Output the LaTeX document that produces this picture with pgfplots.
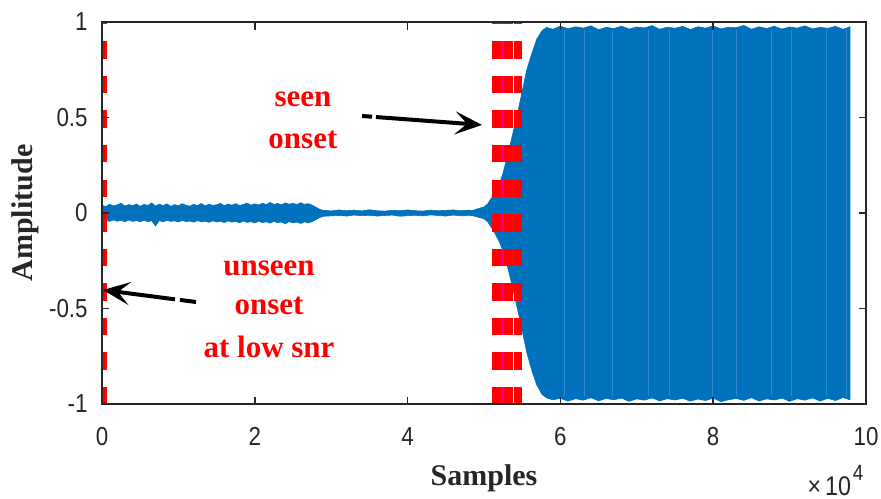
\documentclass[border=0pt]{standalone}
\usepackage{pgfplots}
\pgfplotsset{compat=1.18}
\usepackage{fontspec}
\setmainfont{Liberation Sans}
\newfontfamily\tickfont[FakeStretch=0.86]{Liberation Sans}
\newfontfamily\timesfont{Liberation Serif}
\usetikzlibrary{arrows.meta}
\definecolor{mblue}{RGB}{0,114,189}
\definecolor{lblue}{RGB}{45,138,206}
\definecolor{axgray}{RGB}{38,38,38}
\begin{document}
\begin{tikzpicture}
\begin{axis}[
 scale only axis, width=382pt, height=191pt,
 xmin=0, xmax=100000, ymin=-1, ymax=1,
 xtick={0,20000,40000,60000,80000,100000},
 xticklabels={0,2,4,6,8,10},
 ytick={-1,-0.5,0,0.5,1},
 yticklabels={-1,-0.5,0,0.5,1},
 scaled x ticks=false, scaled y ticks=false,
 tick align=inside,
 major tick length=3.75pt,
 axis line style={axgray, line width=0.75pt},
 every tick/.style={axgray, line width=0.75pt},
 tick label style={font=\tickfont\fontsize{13}{15}\selectfont, text=axgray, inner sep=0pt},
 xticklabel style={anchor=north, yshift=-11.5pt},
 yticklabel style={anchor=east, xshift=-7pt},
 clip=false,
 axis on top,
]
% signal envelope (upper then lower)
\addplot[fill=mblue, draw=mblue, line width=0.3pt] coordinates {
(0,0.040)(500,0.034)(1000,0.046)(1500,0.037)(2000,0.043)(2500,0.051)(3000,0.036)(3500,0.044)(4000,0.039)(4500,0.047)(5000,0.035)(5500,0.045)(6000,0.040)(6500,0.053)(7000,0.037)(7500,0.046)(8000,0.039)(8500,0.048)(9000,0.035)(9500,0.044)(10000,0.038)(10500,0.049)(11000,0.040)(11500,0.036)(12000,0.045)(12500,0.039)(13000,0.050)(13500,0.037)(14000,0.046)(14500,0.040)(15000,0.043)(15500,0.051)(16000,0.038)(16500,0.047)(17000,0.041)(17500,0.049)(18000,0.039)(18500,0.045)(19000,0.052)(19500,0.041)(20000,0.048)(20500,0.042)(21000,0.051)(21500,0.044)(22000,0.055)(22500,0.045)(23000,0.050)(23500,0.043)(24000,0.053)(24500,0.046)(25000,0.051)(25500,0.044)(26000,0.054)(26500,0.045)(27000,0.049)(27500,0.041)(28000,0.030)(28500,0.019)(29000,0.014)(30000,0.011)(31000,0.016)(32000,0.012)(33000,0.015)(34000,0.011)(35000,0.017)(36000,0.012)(37000,0.010)(38000,0.014)(39000,0.012)(40000,0.016)(41000,0.012)(42000,0.010)(43000,0.015)(44000,0.012)(45000,0.014)(46000,0.016)(47000,0.012)(48000,0.015)(48500,0.013)(49000,0.020)(49500,0.026)(50000,0.032)(50500,0.048)(50800,0.068)(51200,0.09)(52000,0.15)(52500,0.21)(53200,0.32)(53800,0.42)(54700,0.58)(55600,0.75)(56300,0.84)(56900,0.91)(57600,0.955)(58200,0.972)(59000,0.962)(60000,0.978)(61000,0.965)(62000,0.975)(63000,0.968)(64000,0.980)(65000,0.960)(66000,0.972)(67000,0.966)(68000,0.978)(69000,0.963)(70000,0.974)(71000,0.969)(72000,0.981)(73000,0.962)(74000,0.973)(75000,0.967)(76000,0.977)(77000,0.961)(78000,0.975)(79000,0.968)(80000,0.979)(81000,0.964)(82000,0.973)(83000,0.970)(84000,0.982)(85000,0.962)(86000,0.975)(87000,0.966)(88000,0.978)(89000,0.963)(90000,0.974)(91000,0.968)(92000,0.980)(93000,0.964)(94000,0.972)(95000,0.967)(96000,0.977)(97000,0.962)(97900,0.975)
(97900,-0.978)(97000,-0.966)(96000,-0.982)(95000,-0.970)(94000,-0.985)(93000,-0.968)(92000,-0.980)(91000,-0.972)(90000,-0.986)(89000,-0.969)(88000,-0.979)(87000,-0.973)(86000,-0.984)(85000,-0.967)(84000,-0.981)(83000,-0.971)(82000,-0.978)(81000,-0.988)(80000,-0.969)(79000,-0.982)(78000,-0.974)(77000,-0.985)(76000,-0.970)(75000,-0.979)(74000,-0.972)(73000,-0.984)(72000,-0.968)(71000,-0.980)(70000,-0.973)(69000,-0.986)(68000,-0.969)(67000,-0.978)(66000,-0.971)(65000,-0.983)(64000,-0.967)(63000,-0.980)(62000,-0.972)(61000,-0.985)(60000,-0.970)(59000,-0.978)(58200,-0.968)(57600,-0.95)(56900,-0.90)(56300,-0.83)(55600,-0.73)(54700,-0.56)(53800,-0.40)(53200,-0.30)(52500,-0.20)(52000,-0.15)(51200,-0.09)(50800,-0.066)(50500,-0.047)(50000,-0.030)(49500,-0.025)(49000,-0.019)(48500,-0.014)(48000,-0.012)(47000,-0.015)(46000,-0.011)(45000,-0.016)(44000,-0.013)(43000,-0.010)(42000,-0.015)(41000,-0.012)(40000,-0.014)(39000,-0.017)(38000,-0.011)(37000,-0.013)(36000,-0.016)(35000,-0.012)(34000,-0.014)(33000,-0.011)(32000,-0.016)(31000,-0.013)(30000,-0.015)(29000,-0.017)(28500,-0.024)(28000,-0.035)(27500,-0.045)(27000,-0.052)(26500,-0.046)(26000,-0.055)(25500,-0.047)(25000,-0.052)(24500,-0.045)(24000,-0.056)(23500,-0.047)(23000,-0.051)(22500,-0.044)(22000,-0.053)(21500,-0.046)(21000,-0.050)(20500,-0.043)(20000,-0.052)(19500,-0.045)(19000,-0.049)(18500,-0.042)(18000,-0.051)(17500,-0.044)(17000,-0.048)(16500,-0.041)(16000,-0.050)(15500,-0.043)(15000,-0.047)(14500,-0.041)(14000,-0.049)(13500,-0.043)(13000,-0.046)(12500,-0.040)(12000,-0.048)(11500,-0.042)(11000,-0.045)(10500,-0.039)(10000,-0.047)(9500,-0.041)(9000,-0.044)(8500,-0.039)(8000,-0.046)(7500,-0.040)(7000,-0.068)(6500,-0.041)(6000,-0.045)(5500,-0.038)(5000,-0.046)(4500,-0.040)(4000,-0.044)(3500,-0.037)(3000,-0.045)(2500,-0.039)(2000,-0.043)(1500,-0.036)(1000,-0.044)(500,-0.038)(0,-0.040)
};
% faint aliasing stripes
\foreach \xs in {60500,63200,66800,71500,74300,79900,83100,87600,90200,94800,97400}{
 \edef\tmp{\noexpand\addplot[lblue, line width=0.5pt] coordinates {(\xs,-0.96)(\xs,0.96)};}\tmp
}
% onset lines
\addplot[magenta, line width=2.5pt, dash pattern=on 8.75pt off 8.5pt] coordinates {(52360,-1)(52360,1)};
\addplot[red, line width=2.5pt, dash pattern=on 8.75pt off 8.5pt] coordinates {(51370,-1)(51370,1)};
\addplot[red, line width=2.5pt, dash pattern=on 8.75pt off 8.5pt] coordinates {(51960,-1)(51960,1)};
\addplot[red, line width=2.5pt, dash pattern=on 8.75pt off 8.5pt] coordinates {(52880,-1)(52880,1)};
\addplot[red, line width=2.5pt, dash pattern=on 8.75pt off 8.5pt] coordinates {(53530,-1)(53530,1)};
\addplot[red, line width=2.5pt, dash pattern=on 8.75pt off 8.5pt] coordinates {(54190,-1)(54190,1)};
\addplot[red, line width=2.5pt, dash pattern=on 8.75pt off 8.5pt] coordinates {(54650,-1)(54650,1)};
\addplot[red, line width=2.5pt, dash pattern=on 8.75pt off 8.5pt] coordinates {(330,-1)(330,1)};
% arrows
\draw[black, line width=2pt] (axis cs:34030,0.508) -- (axis cs:35340,0.504);
\draw[black, line width=2pt, -{Stealth[length=13.5pt,width=11.5pt,inset=6pt]}] (axis cs:35860,0.5025) -- (axis cs:49740,0.461);
\draw[black, line width=2pt] (axis cs:12300,-0.466) -- (axis cs:10200,-0.455);
\draw[black, line width=2pt, -{Stealth[length=13.5pt,width=11.5pt,inset=6pt]}] (axis cs:9550,-0.452) -- (axis cs:130,-0.403);
% annotations
\tikzset{ann/.style={text=red, font=\timesfont\bfseries\fontsize{15.5}{18}\selectfont, anchor=base, inner sep=0pt}}
\node[ann] at (axis cs:26300,0.555) {seen};
\node[ann] at (axis cs:26300,0.340) {onset};
\node[ann] at (axis cs:21860,-0.325) {unseen};
\node[ann] at (axis cs:21860,-0.534) {onset};
\node[ann] at (axis cs:21860,-0.754) {at low snr};
% axis labels
\node[text=axgray, font=\timesfont\bfseries\fontsize{15}{18}\selectfont, anchor=base, inner sep=0pt] at ([yshift=-40.5pt]rel axis cs:0.5,0) {Samples};
\node[text=axgray, font=\timesfont\bfseries\fontsize{15}{18}\selectfont, anchor=base, inner sep=0pt, rotate=90] at ([xshift=-34.5pt]rel axis cs:0,0.5) {Amplitude};
\node[text=axgray, font=\tickfont\fontsize{13.5}{15}\selectfont, anchor=base west, inner sep=0pt] at ([yshift=-45.5pt]rel axis cs:0.923,0) {×\kern2pt 10\kern1pt\raisebox{7.5pt}{\fontsize{11}{12}\selectfont 4}};
\end{axis}
\pgfresetboundingbox
\useasboundingbox (-51pt,-47pt) rectangle (389.5pt,202pt);
\end{tikzpicture}
\end{document}
